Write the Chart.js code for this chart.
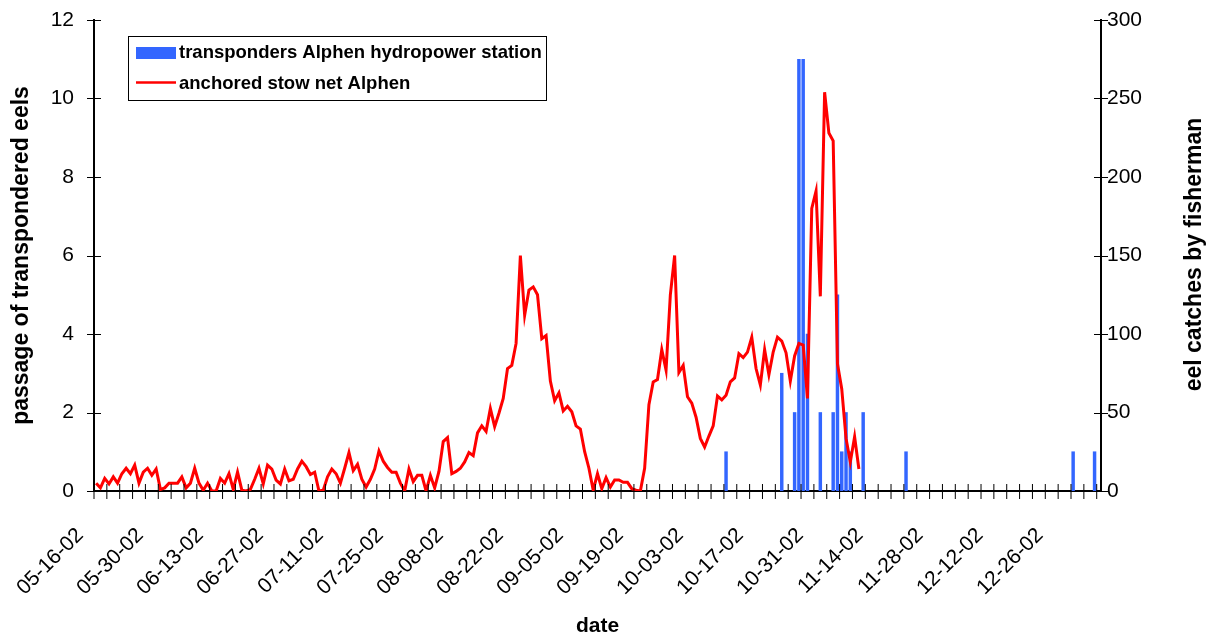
<!DOCTYPE html>
<html>
<head>
<meta charset="utf-8">
<title>Eel migration Alphen 2002</title>
<script src="https://cdn.jsdelivr.net/npm/chart.js@4.4.1/dist/chart.umd.min.js"></script>
<style>
  html, body { margin: 0; padding: 0; background: #ffffff; }
  canvas { display: block; }
</style>
</head>
<body>
<canvas id="chart" width="1216" height="639"></canvas>
<script>
// Daily categories run from 16 May 2002 for 235 days
const firstDay = { year: 2002, month: 5, day: 16 };
const dayCount = 235;

// Dates that carry a label on the x axis
const tickLabels = [
  '05-16-02', '05-30-02', '06-13-02', '06-27-02', '07-11-02', '07-25-02',
  '08-08-02', '08-22-02', '09-05-02', '09-19-02', '10-03-02', '10-17-02',
  '10-31-02', '11-14-02', '11-28-02', '12-12-02', '12-26-02'
];

// Eel catches by the fisherman (anchored stow net), one value per day from 05-16-02
const catchValues = [
  5, 2, 8, 4.5, 9, 5, 11, 14.5, 11, 16.5,
  5, 12, 14.5, 10, 14, 1, 2, 5, 5, 5,
  9, 2, 5, 14.5, 5, 0.5, 5, 0, 0, 8,
  5, 11, 1, 12, 0.5, 0, 1, 7.5, 14.5, 4.5,
  16.5, 14, 7, 4.5, 14, 6.5, 7.5, 14, 19, 15.5,
  10.5, 12, 0, 0.5, 9, 14, 11, 5, 14.5, 24.5,
  13, 17, 7.5, 2.5, 7.5, 14, 25.5, 19, 15, 12,
  12, 5, 0, 14, 6, 10, 10, 0, 10, 2,
  12.5, 31.5, 34, 11, 12.5, 14.5, 18.5, 24.5, 22.5, 37,
  41.5, 38, 52.5, 41, 49.5, 59, 78, 80, 94, 150,
  112, 128, 130, 125, 97, 99, 70, 57.5, 62.5, 51,
  54, 50.5, 41.5, 39.5, 25, 14.5, 0.5, 11, 1.5, 8.5,
  2.5, 7, 7, 5.5, 5.5, 1.5, 0.5, 0, 14.5, 55,
  69.5, 71, 90, 77, 125, 150, 75.5, 80, 60, 56,
  47, 33.5, 28, 35, 41.5, 60.5, 58, 61, 69.5, 72,
  87.5, 85, 88.5, 98, 78, 67.5, 90, 74, 88.5, 98,
  95.5, 88, 70, 86, 94, 93, 59, 180, 191, 124,
  254, 228, 223, 81, 65, 33.5, 18.5, 34.5, 14
];

// Transpondered eels passing the hydropower station
const transponderDates = [
  '10-10-02', '10-23-02', '10-26-02', '10-27-02', '10-28-02', '10-29-02',
  '11-01-02', '11-04-02', '11-05-02', '11-06-02', '11-07-02', '11-08-02',
  '11-11-02', '11-21-02', '12-30-02', '01-04-03'
];
const transponderCounts = [1, 3, 2, 11, 11, 4, 2, 2, 5, 1, 2, 1, 2, 1, 1, 1];

const seriesNames = ['transponders Alphen hydropower station', 'anchored stow net Alphen'];
const axisTitles = { x: 'date', left: 'passage of transpondered eels', right: 'eel catches by fisherman' };

// ---- build category labels (MM-DD-YY) ----
const pad2 = n => String(n).padStart(2, '0');
const categories = [];
for (let d = 0; d < dayCount; d++) {
  const dt = new Date(Date.UTC(firstDay.year, firstDay.month - 1, firstDay.day + d));
  categories.push(pad2(dt.getUTCMonth() + 1) + '-' + pad2(dt.getUTCDate()) + '-' + pad2(dt.getUTCFullYear() % 100));
}

const transponderSeries = categories.map(() => null);
transponderDates.forEach((d, k) => {
  const idx = categories.indexOf(d);
  if (idx >= 0) transponderSeries[idx] = transponderCounts[k];
});

const BLUE = '#3366FF';
const RED = '#FF0000';
const FONT = "'Liberation Sans', Arial, Helvetica, sans-serif";

Chart.defaults.font.family = FONT;
Chart.defaults.color = '#000000';

// Tick marks crossing the axis lines, every 3 days on x, every major step on y
const crossTicks = {
  id: 'crossTicks',
  afterDraw(chart) {
    const { ctx, scales } = chart;
    const x = scales.x, yL = scales.yL, yR = scales.yR;
    ctx.save();
    ctx.strokeStyle = '#000000';
    ctx.lineWidth = 1;
    ctx.beginPath();
    const step = x.getPixelForValue(1) - x.getPixelForValue(0);
    const axisY = chart.chartArea.bottom;
    for (let k = 0; k < categories.length; k += 3) {
      const px = x.getPixelForValue(k) - step / 2;
      ctx.moveTo(px, axisY - 7);
      ctx.lineTo(px, axisY + 8);
    }
    const leftX = chart.chartArea.left;
    yL.ticks.forEach((t, i) => {
      const py = Math.round(yL.getPixelForTick(i)) + 0.5;
      ctx.moveTo(leftX - 7, py);
      ctx.lineTo(leftX + 7, py);
    });
    const rightX = chart.chartArea.right;
    yR.ticks.forEach((t, i) => {
      const py = Math.round(yR.getPixelForTick(i)) + 0.5;
      ctx.moveTo(rightX - 7, py);
      ctx.lineTo(rightX + 7, py);
    });
    ctx.stroke();
    ctx.restore();
  }
};

// Secondary axis title, read bottom-to-top like the primary one
const rightTitle = {
  id: 'rightTitle',
  afterDraw(chart) {
    const { ctx, chartArea } = chart;
    ctx.save();
    ctx.font = 'bold 23px ' + FONT;
    ctx.fillStyle = '#000000';
    ctx.textAlign = 'center';
    ctx.textBaseline = 'middle';
    ctx.translate(chart.width - 21, (chartArea.top + chartArea.bottom) / 2 - 1);
    ctx.rotate(-Math.PI / 2);
    ctx.fillText(axisTitles.right, 0, 0);
    ctx.restore();
  }
};

// Boxed legend inside the plot area
const boxLegend = {
  id: 'boxLegend',
  afterDraw(chart) {
    const { ctx, chartArea } = chart;
    const bx = Math.round(chartArea.left + 34) + 0.5;
    const by = Math.round(chartArea.top + 16) + 0.5;
    const bw = 418, bh = 64;
    ctx.save();
    ctx.fillStyle = '#ffffff';
    ctx.fillRect(bx, by, bw, bh);
    ctx.strokeStyle = '#000000';
    ctx.lineWidth = 1;
    ctx.strokeRect(bx, by, bw, bh);
    const ds = chart.data.datasets;
    // bar swatch
    ctx.fillStyle = ds[0].backgroundColor;
    ctx.fillRect(bx + 7.5, by + 10.5, 40, 12);
    // line swatch
    ctx.strokeStyle = ds[1].borderColor;
    ctx.lineWidth = 2.5;
    ctx.beginPath();
    ctx.moveTo(bx + 7.5, by + 46);
    ctx.lineTo(bx + 47.5, by + 46);
    ctx.stroke();
    ctx.fillStyle = '#000000';
    ctx.font = 'bold 18.5px ' + FONT;
    ctx.textAlign = 'left';
    ctx.textBaseline = 'middle';
    ctx.fillText(ds[0].label, bx + 50.5, by + 16.5);
    ctx.fillText(ds[1].label, bx + 50.5, by + 47);
    ctx.restore();
  }
};

// keep the outer tick-label padding from pushing the plot area down
const trimVerticalPadding = scale => {
  scale.paddingTop = 12;
  scale.paddingBottom = 12;
};

new Chart(document.getElementById('chart').getContext('2d'), {
  data: {
    labels: categories,
    datasets: [
      {
        type: 'bar',
        label: seriesNames[0],
        data: transponderSeries,
        yAxisID: 'yL',
        backgroundColor: BLUE,
        borderWidth: 0,
        barThickness: 2.8,
        order: 2
      },
      {
        type: 'line',
        label: seriesNames[1],
        data: catchValues,
        yAxisID: 'yR',
        borderColor: RED,
        backgroundColor: RED,
        borderWidth: 3,
        pointRadius: 0,
        tension: 0,
        fill: false,
        order: 1
      }
    ]
  },
  options: {
    responsive: false,
    animation: false,
    devicePixelRatio: 1,
    layout: { padding: { top: 20, left: 0, right: 0, bottom: 0 } },
    plugins: {
      legend: { display: false },
      tooltip: { enabled: false }
    },
    scales: {
      x: {
        type: 'category',
        offset: true,
        grid: { display: false, drawTicks: false },
        border: { display: true, color: '#000000', width: 2 },
        ticks: {
          autoSkip: false,
          maxRotation: 45,
          minRotation: 45,
          padding: 32,
          labelOffset: -16,
          color: '#000000',
          font: { size: 21 },
          callback(value, index) {
            const lab = categories[index];
            return tickLabels.includes(lab) ? lab : '';
          }
        },
        title: {
          display: true,
          text: axisTitles.x,
          color: '#000000',
          font: { size: 21, weight: 'bold' },
          padding: { top: 0, bottom: 0 }
        },
        afterFit(scale) { scale.height = 148; }
      },
      yL: {
        position: 'left',
        min: 0,
        max: 12,
        grid: { display: false, drawTicks: false },
        border: { display: true, color: '#000000', width: 2 },
        ticks: { stepSize: 2, padding: 20, color: '#000000', font: { size: 21 } },
        title: {
          display: true,
          text: axisTitles.left,
          color: '#000000',
          font: { size: 23, weight: 'bold' },
          padding: { top: 8, bottom: 0 }
        },
        afterFit(scale) { scale.width = 94; trimVerticalPadding(scale); }
      },
      yR: {
        position: 'right',
        min: 0,
        max: 300,
        grid: { display: false, drawTicks: false },
        border: { display: true, color: '#000000', width: 2 },
        ticks: { stepSize: 50, padding: 6, color: '#000000', font: { size: 21 } },
        afterFit(scale) { scale.width = 115; trimVerticalPadding(scale); }
      }
    }
  },
  plugins: [crossTicks, rightTitle, boxLegend]
});
</script>
</body>
</html>
